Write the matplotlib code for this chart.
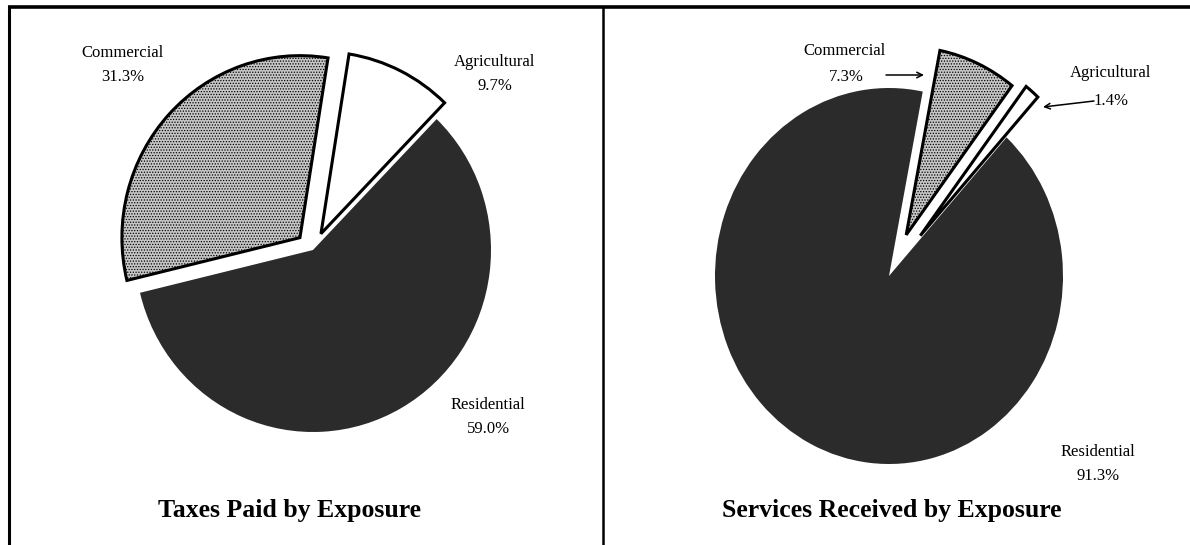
import matplotlib.pyplot as plt

# -------------------------------
# Datos de las dos tortas
W, H = 1190, 545

categorias = ["Residential", "Commercial", "Agricultural"]
impuestos = [59.0, 31.3, 9.7]      # Taxes Paid by Exposure
servicios = [91.3, 7.3, 1.4]       # Services Received by Exposure
titulos = ["Taxes Paid by Exposure", "Services Received by Exposure"]

colores = ["#2b2b2b", "#c6c6c6", "white"]
tramas = [None, "......", None]

plt.rcParams["font.family"] = ["Liberation Serif", "DejaVu Serif"]
plt.rcParams["hatch.linewidth"] = 0.6
plt.rcParams["hatch.color"] = "#3a3a3a"


def y(v):
    # coordenada de imagen (desde arriba) -> coordenada del eje
    return H - v


fig = plt.figure(figsize=(W / 100, H / 100), dpi=100)


def torta(valores, cx, cy, rx, ry, inicio, separa):
    # un eje propio por torta, asi el escaneo algo estirado se puede imitar
    m = 1.5
    axp = fig.add_axes([(cx - m * rx) / W, (H - cy - m * ry) / H,
                        2 * m * rx / W, 2 * m * ry / H])
    cunas, _ = axp.pie(valores, explode=separa, startangle=inicio,
                       counterclock=False, radius=1,
                       colors=colores, hatch=tramas,
                       wedgeprops=dict(linewidth=2.2, edgecolor="black"))
    cunas[0].set_linewidth(0)
    cunas[0].set_edgecolor(colores[0])
    axp.set_xlim(-m, m)
    axp.set_ylim(-m, m)
    axp.set_aspect("auto")
    axp.axis("off")
    return cunas


torta(impuestos, 313, 250, 178, 182, 46, [0, 0.10, 0.10])
torta(servicios, 889, 276, 174, 188, 47.5, [0, 0.24, 0.28])

ax = fig.add_axes([0, 0, 1, 1])
ax.set_xlim(0, W)
ax.set_ylim(0, H)
ax.axis("off")

# etiquetas de la torta izquierda
pos_izq = [(488, 405), (123, 53), (495, 62)]
for nombre, valor, (px, py) in zip(categorias, impuestos, pos_izq):
    ax.text(px, y(py), nombre, ha="center", va="center", fontsize=12)
    ax.text(px, y(py + 24), f"{valor:.1f}%", ha="center", va="center", fontsize=12)

# etiquetas de la torta derecha
ax.text(1098, y(452), categorias[0], ha="center", va="center", fontsize=12)
ax.text(1098, y(476), f"{servicios[0]:.1f}%", ha="center", va="center", fontsize=12)
ax.text(845, y(51), categorias[1], ha="center", va="center", fontsize=12)
ax.text(846, y(77), f"{servicios[1]:.1f}%", ha="center", va="center", fontsize=12)
ax.text(1111, y(73), categorias[2], ha="center", va="center", fontsize=12)
ax.text(1111, y(101), f"{servicios[2]:.1f}%", ha="center", va="center", fontsize=12)

flecha = dict(arrowstyle="->", lw=1.1, color="black", shrinkA=0, shrinkB=0)
ax.annotate("", xy=(924, y(75)), xytext=(886, y(75)), arrowprops=flecha)
ax.annotate("", xy=(1043, y(107)), xytext=(1094, y(101)), arrowprops=flecha)

# titulos abajo
ax.text(289, y(510), titulos[0], ha="center", va="center", fontsize=18.5, fontweight="bold")
ax.text(892, y(510), titulos[1], ha="center", va="center", fontsize=18.5, fontweight="bold")

# marco
ax.plot([8, W], [y(7), y(7)], color="black", lw=2.6, solid_capstyle="butt")
ax.plot([9, 9], [y(7), 0], color="black", lw=2.2)
ax.plot([603, 603], [y(7), 0], color="black", lw=1.8)

fig.savefig("out.png", dpi=100)
